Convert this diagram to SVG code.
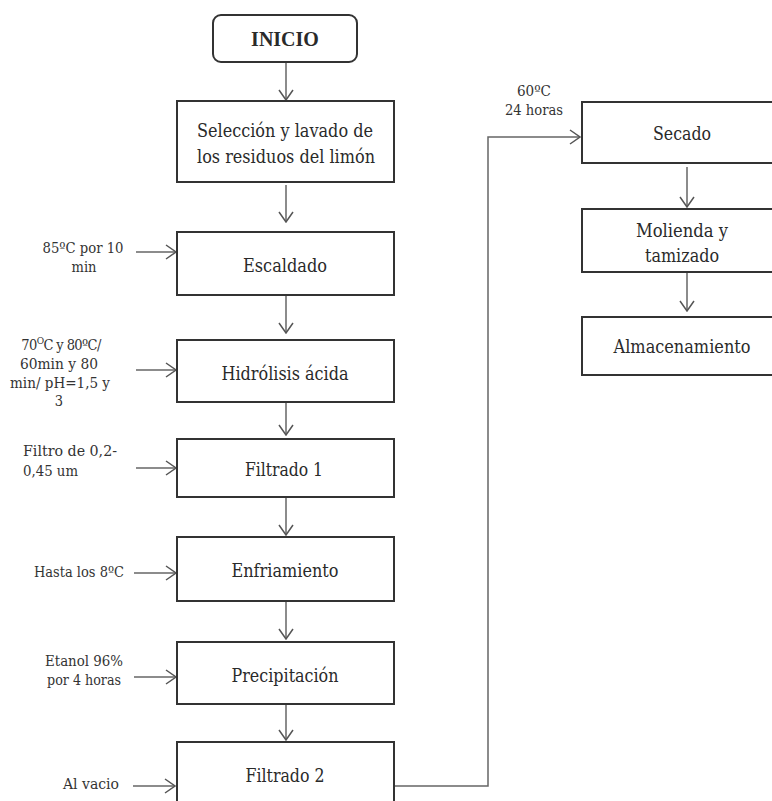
<svg xmlns="http://www.w3.org/2000/svg" width="772" height="801" viewBox="0 0 772 801">
<style>
.box{fill:#fff;stroke:#333;stroke-width:2}
.t{font-family:"Liberation Serif","DejaVu Serif",serif;font-size:20px;fill:#2a2a2a;text-anchor:middle}
.r{font-family:"DejaVu Serif Condensed","DejaVu Serif",serif;font-size:18px}
.b{font-weight:bold}
.l{font-family:"DejaVu Serif Condensed","DejaVu Serif",serif;font-size:14.5px;fill:#333;text-anchor:middle}
.c{fill:none;stroke:#666;stroke-width:1.5}
</style>
<defs>
<marker id="arr" viewBox="0 0 12 16" refX="11" refY="8" markerWidth="12" markerHeight="16" markerUnits="userSpaceOnUse" orient="auto">
<path d="M1,1 L11,8 L1,15" fill="none" stroke="#555" stroke-width="1.5"/>
</marker>
</defs>
<rect width="772" height="801" fill="#fff"/>
<g id="connectors">
<line class="c" x1="286" y1="62" x2="286" y2="100" marker-end="url(#arr)"/>
<line class="c" x1="286" y1="185" x2="286" y2="222" marker-end="url(#arr)"/>
<line class="c" x1="286" y1="296" x2="286" y2="333" marker-end="url(#arr)"/>
<line class="c" x1="286" y1="397" x2="286" y2="435" marker-end="url(#arr)"/>
<line class="c" x1="286" y1="498" x2="286" y2="535" marker-end="url(#arr)"/>
<line class="c" x1="286" y1="602" x2="286" y2="639" marker-end="url(#arr)"/>
<line class="c" x1="286" y1="705" x2="286" y2="740" marker-end="url(#arr)"/>
<line class="c" x1="687" y1="167" x2="687" y2="207" marker-end="url(#arr)"/>
<line class="c" x1="687" y1="273" x2="687" y2="311" marker-end="url(#arr)"/>
<line class="c" x1="136" y1="252" x2="176" y2="252" marker-end="url(#arr)"/>
<line class="c" x1="136" y1="370" x2="176" y2="370" marker-end="url(#arr)"/>
<line class="c" x1="136" y1="468" x2="176" y2="468" marker-end="url(#arr)"/>
<line class="c" x1="134" y1="573" x2="176" y2="573" marker-end="url(#arr)"/>
<line class="c" x1="134" y1="677" x2="176" y2="677" marker-end="url(#arr)"/>
<line class="c" x1="133" y1="786" x2="175" y2="786" marker-end="url(#arr)"/>
<polyline class="c" points="394,786 488,786 488,137 580,137" marker-end="url(#arr)"/>
</g>
<g id="inicio">
<rect class="box" x="213" y="15" width="144" height="47" rx="8"/>
<text class="t b" x="285" y="46">INICIO</text>
</g>
<g id="seleccion">
<rect class="box" x="177" y="101" width="217" height="81"/>
<text class="t r" x="285" y="137" textLength="176" lengthAdjust="spacingAndGlyphs">Selección y lavado de</text>
<text class="t r" x="286" y="163" textLength="178" lengthAdjust="spacingAndGlyphs">los residuos del limón</text>
</g>
<g id="escaldado">
<rect class="box" x="177" y="232" width="217" height="63"/>
<text class="t r" x="285" y="272" textLength="84" lengthAdjust="spacingAndGlyphs">Escaldado</text>
<text class="l" x="83" y="253" textLength="81" lengthAdjust="spacingAndGlyphs">85ºC por 10</text>
<text class="l" x="84" y="272" textLength="25" lengthAdjust="spacingAndGlyphs">min</text>
</g>
<g id="hidrolisis">
<rect class="box" x="177" y="340" width="217" height="62"/>
<text class="t r" x="285" y="380" textLength="127" lengthAdjust="spacingAndGlyphs">Hidrólisis ácida</text>
<text class="l" x="61" y="350" letter-spacing="-0.6">70<tspan font-size="10" dy="-6">O</tspan><tspan dy="6">C y 80ºC/</tspan></text>
<text class="l" x="59" y="369" textLength="78" lengthAdjust="spacingAndGlyphs">60min y 80</text>
<text class="l" x="60" y="388" textLength="100" lengthAdjust="spacingAndGlyphs">min/ pH=1,5 y</text>
<text class="l" x="59" y="406">3</text>
</g>
<g id="filtrado1">
<rect class="box" x="177" y="439" width="217" height="58"/>
<text class="t r" x="284" y="476" textLength="78" lengthAdjust="spacingAndGlyphs">Filtrado 1</text>
<text class="l" x="23" y="456" style="text-anchor:start" textLength="94" lengthAdjust="spacingAndGlyphs">Filtro de 0,2-</text>
<text class="l" x="23" y="476" style="text-anchor:start" textLength="55" lengthAdjust="spacingAndGlyphs">0,45 um</text>
</g>
<g id="enfriamiento">
<rect class="box" x="177" y="537" width="217" height="64"/>
<text class="t r" x="285" y="577" textLength="107" lengthAdjust="spacingAndGlyphs">Enfriamiento</text>
<text class="l" x="79" y="577" textLength="90" lengthAdjust="spacingAndGlyphs">Hasta los 8ºC</text>
</g>
<g id="precipitacion">
<rect class="box" x="177" y="642" width="217" height="62"/>
<text class="t r" x="285" y="682" textLength="107" lengthAdjust="spacingAndGlyphs">Precipitación</text>
<text class="l" x="84" y="666" textLength="78" lengthAdjust="spacingAndGlyphs">Etanol 96%</text>
<text class="l" x="84" y="685" textLength="74" lengthAdjust="spacingAndGlyphs">por 4 horas</text>
</g>
<g id="filtrado2">
<rect class="box" x="177" y="742" width="217" height="80"/>
<text class="t r" x="285" y="782" textLength="79" lengthAdjust="spacingAndGlyphs">Filtrado 2</text>
<text class="l" x="91" y="789" textLength="56" lengthAdjust="spacingAndGlyphs">Al vacio</text>
</g>
<g id="secado">
<rect class="box" x="582" y="102" width="200" height="61"/>
<text class="t r" x="682" y="140" textLength="58" lengthAdjust="spacingAndGlyphs">Secado</text>
<text class="l" x="534" y="96" textLength="34" lengthAdjust="spacingAndGlyphs">60ºC</text>
<text class="l" x="534" y="115" textLength="58" lengthAdjust="spacingAndGlyphs">24 horas</text>
</g>
<g id="molienda">
<rect class="box" x="582" y="209" width="200" height="63"/>
<text class="t r" x="682" y="237" textLength="92" lengthAdjust="spacingAndGlyphs">Molienda y</text>
<text class="t r" x="682" y="262" textLength="74" lengthAdjust="spacingAndGlyphs">tamizado</text>
</g>
<g id="almacenamiento">
<rect class="box" x="582" y="317" width="200" height="58"/>
<text class="t r" x="682" y="353" textLength="137" lengthAdjust="spacingAndGlyphs">Almacenamiento</text>
</g>
</svg>
